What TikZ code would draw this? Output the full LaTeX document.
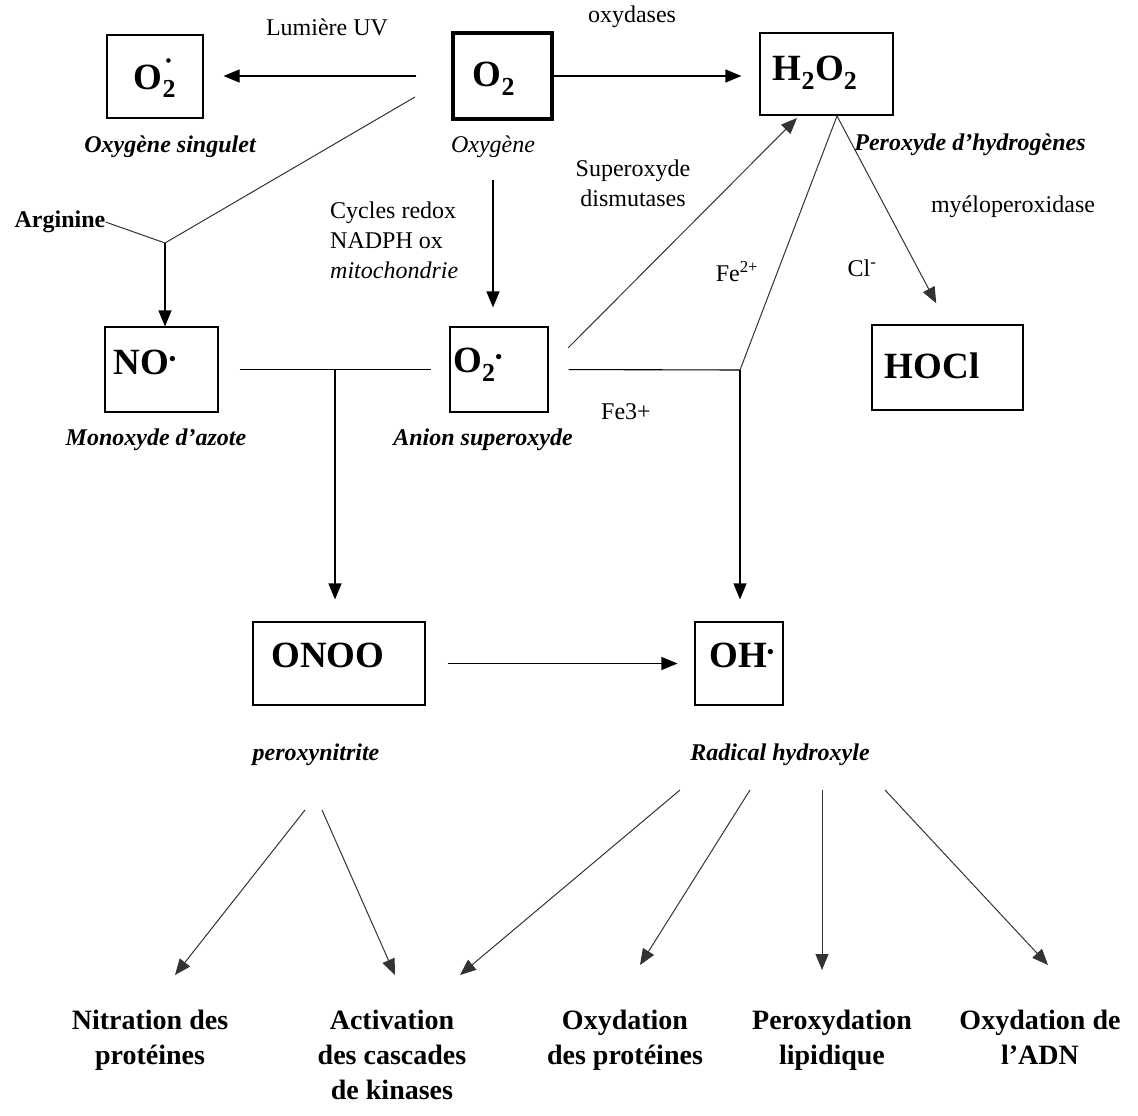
\documentclass[tikz,border=0pt]{standalone}
\usepackage{fontspec}
\setmainfont{Liberation Serif}
\usetikzlibrary{arrows.meta,calc}
\newcommand{\radi}{\textsuperscript{\scalebox{0.75}{\textbullet}}}
\newcommand{\topdot}{\rlap{\raisebox{0.62em}{\hspace{0.08em}\scalebox{0.45}{\textbullet}}}}
\begin{document}
\begin{tikzpicture}[x=1pt,y=-1pt,
  box/.style={draw,line width=1.1pt,inner sep=0pt},
  lab/.style={font=\fontsize{24}{30}\selectfont,inner sep=0pt},
  ital/.style={font=\fontsize{24}{30}\selectfont\bfseries\itshape,inner sep=0pt},
  btxt/.style={font=\fontsize{37}{42}\selectfont\bfseries,inner sep=0pt},
  bot/.style={font=\fontsize{28}{35}\selectfont\bfseries,align=center,inner sep=0pt,anchor=north},
  con/.style={line width=1.1pt},
  lcon/.style={line width=1pt,black!80},
  arr/.style={con,-{Triangle[length=16pt,width=13pt]}},
  larr/.style={lcon,-{Triangle[length=16pt,width=13pt]}}]
\fill[white] (0,0) rectangle (1138,1116);
\useasboundingbox (0,0) rectangle (1138,1116);

% boxes
\node[box,minimum width=96,minimum height=83] (sing) at (155,76.5) {};
\node[box,line width=3.5pt,minimum width=99,minimum height=86] (o2) at (502.5,76) {};
\node[box,minimum width=133,minimum height=82] (h2o2) at (826.5,74) {};
\node[box,minimum width=113,minimum height=85] (no) at (161.5,369.5) {};
\node[box,minimum width=98,minimum height=85] (sup) at (499,369.5) {};
\node[box,minimum width=151,minimum height=85] (hocl) at (947.5,367.5) {};
\node[box,minimum width=172,minimum height=83] (onoo) at (339,663.5) {};
\node[box,minimum width=88,minimum height=83] (oh) at (739,663.5) {};

% box texts
\node[btxt] (singt) at (155,78) {O\topdot\textsubscript{2}};
\node[btxt] (o2t) at (494,79) {O\textsubscript{2}};
\node[btxt] (h2o2t) at (815,73) {H\textsubscript{2}O\textsubscript{2}};
\node[btxt] (not) at (145,362) {NO\radi};
\node[btxt] (supt) at (478,365) {O\textsubscript{2}\radi};
\node[btxt] (hoclt) at (932,366) {HOCl};
\node[btxt] (onoot) at (328,655) {ONOO};
\node[btxt] (oht) at (742,655) {OH\radi};

% labels
\node[lab] (uv) at (327,27) {Lumière UV};
\node[lab] (oxyd) at (632,17) {oxydases};
\node[ital] (singl) at (170,147) {Oxygène singulet};
\node[lab,font=\fontsize{24}{30}\selectfont\itshape] (oxyl) at (493,147) {Oxygène};
\node[ital] (perl) at (970,145) {Peroxyde d'hydrogènes};
\node[lab,font=\fontsize{24}{30}\selectfont\bfseries] (argi) at (60,222) {Arginine};
\node[lab,align=left,anchor=west] (cyc) at (330,240) {Cycles redox\\NADPH ox\\\textit{mitochondrie}};
\node[lab,align=center] (sod) at (633,183) {Superoxyde\\dismutases};
\node[lab] (myel) at (1013,207) {myéloperoxidase};
\node[lab] (fe2) at (737,272) {Fe\textsuperscript{2+}};
\node[lab] (cl) at (862,268) {Cl\textsuperscript{-}};
\node[ital] (monl) at (156,440) {Monoxyde d'azote};
\node[ital] (anl) at (483,440) {Anion superoxyde};
\node[lab] (fe3) at (626,412) {Fe3+};
\node[ital] (pnl) at (316,755) {peroxynitrite};
\node[ital] (rhl) at (780,755) {Radical hydroxyle};

% bottom labels
\node[bot] (nit) at (150,1010) {Nitration des\\protéines};
\node[bot] (act) at (392,1010) {Activation\\des cascades\\de kinases};
\node[bot] (oxp) at (625,1010) {Oxydation\\des protéines};
\node[bot] (perx) at (832,1010) {Peroxydation\\lipidique};
\node[bot] (oxa) at (1040,1010) {Oxydation de\\l'ADN};

% top connectors
\draw[arr,shorten <=35pt,shorten >=20pt] (o2.west) -- (o2.west -| sing.east);
\draw[arr,shorten >=18pt] (o2.east) -- (o2.east -| h2o2.west);
\coordinate (jA) at (165,243);
\coordinate (o2l) at (415,97);
\draw[lcon] (o2l) -- (jA);
\draw[lcon] (argi.east) -- (jA);
\draw[arr] (jA) -- (jA |- no.north);
\coordinate (o2b) at (493,180);
\draw[arr,shorten >=19pt] (o2b) -- (o2b |- sup.north);

% middle connectors
\coordinate (jB) at (335,370);
\draw[con,shorten <=21pt,shorten >=18pt] (no.east) -- (sup.west);
\draw[arr,shorten >=22pt] (jB) -- (jB |- onoo.north);
\coordinate (jC) at (740,370);
\draw[con,shorten <=20pt] (sup.east) -- (jC);
\coordinate (hs) at (837,116);
\draw[lcon] (hs) -- (jC);
\draw[arr,shorten >=22pt] (jC) -- (jC |- oh.north);
\coordinate (sd) at (568,348);
\coordinate (ht) at (797,118);
\draw[larr] (sd) -- (ht);
\draw[larr,shorten >=24pt] (hs) -- (hocl.north);
\draw[arr,shorten <=22pt,shorten >=17pt] (onoo.east) -- (onoo.east -| oh.west);

% bottom connectors
\coordinate (b1s) at (305,810); \coordinate (b1e) at (175,975);
\coordinate (b2s) at (322,810); \coordinate (b2e) at (395,975);
\coordinate (b3s) at (680,790); \coordinate (b3e) at (460,975);
\coordinate (b4s) at (750,790); \coordinate (b4e) at (640,965);
\coordinate (b5s) at (822,790); \coordinate (b5e) at (822,970);
\coordinate (b6s) at (885,790); \coordinate (b6e) at (1048,965);
\draw[larr] (b1s) -- (b1e);
\draw[larr] (b2s) -- (b2e);
\draw[larr] (b3s) -- (b3e);
\draw[larr] (b4s) -- (b4e);
\draw[larr] (b5s) -- (b5e);
\draw[larr] (b6s) -- (b6e);
\end{tikzpicture}
\end{document}
